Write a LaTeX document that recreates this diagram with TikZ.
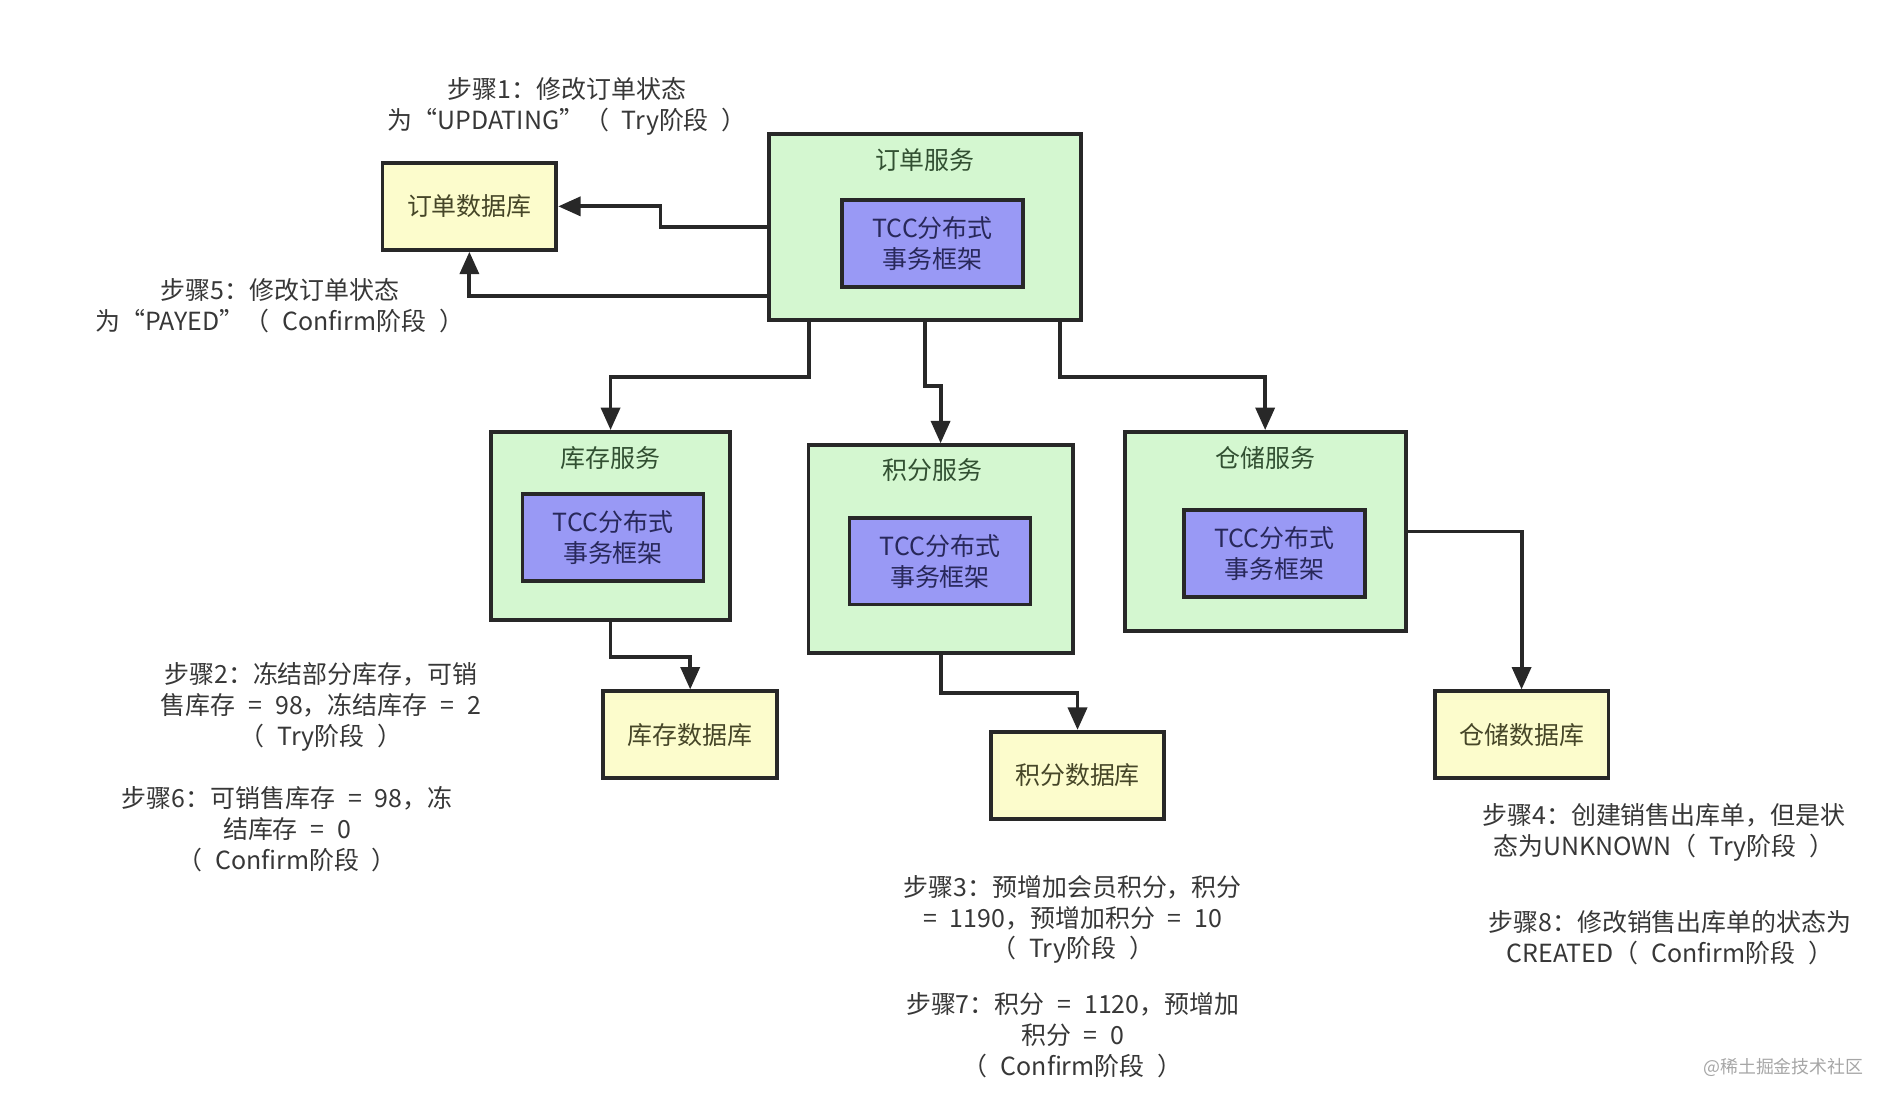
\documentclass[tikz,border=0pt]{standalone}
\usepackage{fontspec}
\setmainfont[WordSpace=2.3]{Noto Sans CJK SC}
\usepackage{tikz}
\usetikzlibrary{arrows.meta}
\definecolor{mygreen}{RGB}{212,247,208}
\definecolor{mypurple}{RGB}{153,153,245}
\definecolor{myyellow}{RGB}{252,252,204}
\definecolor{myline}{RGB}{40,40,40}
\definecolor{mytext}{RGB}{55,55,55}
\definecolor{mygreentext}{RGB}{50,80,50}
\definecolor{mybluetext}{RGB}{40,40,90}
\definecolor{myolivetext}{RGB}{70,70,40}
\newdimen\unitpx
\unitpx=0.012066cm
\newcommand{\tcc}{TCC分布式\\事务框架}
\newcommand{\txtsize}{\fontsize{7.1}{8.8}\selectfont}
\tikzset{
    common/.style={draw=myline, rectangle, line width=1.1pt, font=\txtsize, align=center, inner sep=0pt},
    service/.style={common, fill=mygreen},
    tcc/.style={common, fill=mypurple, text=mybluetext, minimum width=150\unitpx, minimum height=72\unitpx},
    db/.style={common, fill=myyellow, text=myolivetext, minimum width=144\unitpx, minimum height=72\unitpx},
    svctitle/.style={font=\txtsize, text=mygreentext, inner sep=0pt},
    note/.style={align=center, font=\txtsize, text=mytext, inner sep=0pt},
    watermark/.style={font=\fontsize{5.1}{6}\selectfont, text=black!35, inner sep=0pt},
    flow/.style={draw=myline, line width=1.1pt, -{Triangle[length=6.4pt, width=5.4pt]}}
}

\begin{document}
\begin{tikzpicture}[x=0.012066cm, y=-0.012066cm]
    \useasboundingbox (0,0) rectangle (1568,918);

    \node[service, minimum width=259\unitpx, minimum height=154\unitpx] (ordersvc) at (766.5,188) {};
    \node[svctitle] (ordertitle) at ([yshift=-23\unitpx]ordersvc.north) {订单服务};
    \node[tcc] (ordertcc) at (773,202) {\tcc};
    \node[db] (orderdb) at (389,171) {订单数据库};

    \node[service, minimum width=198\unitpx, minimum height=156\unitpx] (stocksvc) at (506,436) {};
    \node[svctitle] (stocktitle) at ([yshift=-23\unitpx]stocksvc.north) {库存服务};
    \node[tcc] (stocktcc) at (508,445.5) {\tcc};
    \node[db] (stockdb) at (572,609) {库存数据库};

    \node[service, minimum width=219\unitpx, minimum height=172\unitpx] (pointsvc) at (779.5,455) {};
    \node[svctitle] (pointtitle) at ([yshift=-22\unitpx, xshift=-7\unitpx]pointsvc.north) {积分服务};
    \node[tcc] (pointtcc) at (779,465) {\tcc};
    \node[db] (pointdb) at (893,642.5) {积分数据库};

    \node[service, minimum width=233\unitpx, minimum height=165\unitpx] (storesvc) at (1048.5,440.5) {};
    \node[svctitle] (storetitle) at ([yshift=-23\unitpx]storesvc.north) {仓储服务};
    \node[tcc] (storetcc) at (1056,458.5) {\tcc};
    \node[db] (storedb) at (1261,609) {仓储数据库};

    \node[note] (step1) at (470,88) {步骤1：修改订单状态\\为“UPDATING”（ Try阶段 ）};
    \node[note] (step5) at (232,253) {步骤5：修改订单状态\\为“PAYED”（ Confirm阶段 ）};
    \node[note] (step2) at (266,586) {步骤2：冻结部分库存，可销\\售库存 = 98，冻结库存 = 2\\（ Try阶段 ）};
    \node[note] (step6) at (238,687) {步骤6：可销售库存 = 98，冻\\结库存 = 0\\（ Confirm阶段 ）};
    \node[note] (step3) at (889,762) {步骤3：预增加会员积分，积分\\= 1190，预增加积分 = 10\\（ Try阶段 ）};
    \node[note] (step7) at (889,858) {步骤7：积分 = 1120，预增加\\积分 = 0\\（ Confirm阶段 ）};
    \node[note] (step4) at (1379,690) {步骤4：创建销售出库单，但是状\\态为UNKNOWN（ Try阶段 ）};
    \node[note] (step8) at (1384,777) {步骤8：修改销售出库单的状态为\\CREATED（ Confirm阶段 ）};
    \node[watermark] (mark) at (1478,885) {@稀土掘金技术社区};

    \draw[flow] (ordersvc.west) -- ++(-88,0) |- (orderdb.east);
    \draw[flow] ([yshift=21\unitpx]ordersvc.south west) -| (orderdb.south);
    \draw[flow] ([xshift=-96\unitpx]ordersvc.south) -- ++(0,46) -| (stocksvc.north);
    \draw[flow] (ordersvc.south) -- ++(0,53) -| (pointsvc.north);
    \draw[flow] ([xshift=112\unitpx]ordersvc.south) -- ++(0,46) -| (storesvc.north);
    \draw[flow] (stocksvc.south) -- ++(0,29) -| (stockdb.north);
    \draw[flow] (pointsvc.south) -- ++(0,32) -| (pointdb.north);
    \draw[flow] (storesvc.east) -| (storedb.north);

\end{tikzpicture}
\end{document}
